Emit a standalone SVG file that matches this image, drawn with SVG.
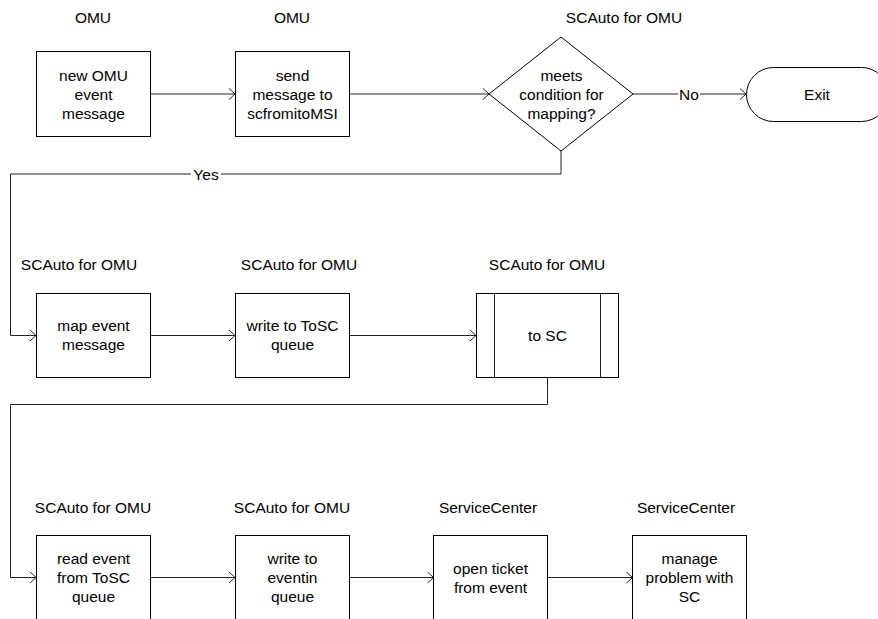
<svg xmlns="http://www.w3.org/2000/svg" width="878" height="619" viewBox="0 0 878 619">
<style>
text{font-family:"Liberation Sans",Arial,sans-serif;font-size:15.5px;fill:#000;text-anchor:middle}
.box{fill:#fff;stroke:#000;stroke-width:1}
.ln{fill:none;stroke:#222;stroke-width:1}
.lbl{fill:#fff}
</style>
<defs>
<marker id="ah" viewBox="0 0 8 12" refX="7" refY="6" markerWidth="8" markerHeight="12" markerUnits="userSpaceOnUse" orient="auto">
<path d="M1,0.5 L7,6 L1,11.5" fill="none" stroke="#222" stroke-width="1"/>
</marker>
</defs>
<rect width="878" height="619" fill="#fff"/>
<g id="connectors">
<path class="ln" d="M150,94 H235" marker-end="url(#ah)"/>
<path class="ln" d="M349,94 H489" marker-end="url(#ah)"/>
<path class="ln" d="M633,94 H746" marker-end="url(#ah)"/>
<rect class="lbl" x="678" y="86" width="22" height="16"/>
<text x="689" y="99.5">No</text>
<path class="ln" d="M561,151 V174 H10.5 V335.5 H36" marker-end="url(#ah)"/>
<rect class="lbl" x="191" y="166" width="30" height="16"/>
<text x="206" y="179.5">Yes</text>
<path class="ln" d="M150,335.5 H235" marker-end="url(#ah)"/>
<path class="ln" d="M349,335.5 H476" marker-end="url(#ah)"/>
<path class="ln" d="M547.5,378 V404.5 H10.5 V577.5 H36" marker-end="url(#ah)"/>
<path class="ln" d="M150,577.5 H235" marker-end="url(#ah)"/>
<path class="ln" d="M349,577.5 H433.5" marker-end="url(#ah)"/>
<path class="ln" d="M547.5,577.5 H632.5" marker-end="url(#ah)"/>
</g>
<g id="n1">
<text x="93" y="22.5">OMU</text>
<rect class="box" x="36.5" y="51.5" width="114" height="85"/>
<text x="93.5" y="81">new OMU</text>
<text x="93.5" y="100">event</text>
<text x="93.5" y="119">message</text>
</g>
<g id="n2">
<text x="292" y="22.5">OMU</text>
<rect class="box" x="235.5" y="51.5" width="114" height="85"/>
<text x="292.5" y="81">send</text>
<text x="292.5" y="100">message to</text>
<text x="292.5" y="119">scfromitoMSI</text>
</g>
<g id="n3">
<text x="624" y="22.5">SCAuto for OMU</text>
<path class="box" d="M561,37 L633,94 L561,151 L489,94 Z"/>
<text x="561.5" y="81">meets</text>
<text x="561.5" y="100">condition for</text>
<text x="561.5" y="119">mapping?</text>
</g>
<g id="n4">
<rect class="box" x="746.5" y="67.5" width="142" height="54" rx="27" ry="27"/>
<text x="817" y="99.5">Exit</text>
</g>
<g id="n5">
<text x="79" y="269.5">SCAuto for OMU</text>
<rect class="box" x="36.5" y="293.5" width="114" height="84"/>
<text x="93.5" y="331">map event</text>
<text x="93.5" y="350">message</text>
</g>
<g id="n6">
<text x="299" y="269.5">SCAuto for OMU</text>
<rect class="box" x="235.5" y="293.5" width="114" height="84"/>
<text x="292.5" y="331">write to ToSC</text>
<text x="292.5" y="350">queue</text>
</g>
<g id="n7">
<text x="547" y="269.5">SCAuto for OMU</text>
<rect class="box" x="476.5" y="293.5" width="142" height="84"/>
<line class="ln" x1="494.5" y1="293.5" x2="494.5" y2="377.5"/>
<line class="ln" x1="600.5" y1="293.5" x2="600.5" y2="377.5"/>
<text x="547.5" y="341">to SC</text>
</g>
<g id="n8">
<text x="93" y="512.5">SCAuto for OMU</text>
<rect class="box" x="36.5" y="535.5" width="114" height="85"/>
<text x="93.5" y="564">read event</text>
<text x="93.5" y="583">from ToSC</text>
<text x="93.5" y="602">queue</text>
</g>
<g id="n9">
<text x="292" y="512.5">SCAuto for OMU</text>
<rect class="box" x="235.5" y="535.5" width="114" height="85"/>
<text x="292.5" y="564">write to</text>
<text x="292.5" y="583">eventin</text>
<text x="292.5" y="602">queue</text>
</g>
<g id="n10">
<text x="488" y="512.5">ServiceCenter</text>
<rect class="box" x="433.5" y="535.5" width="114" height="85"/>
<text x="490.5" y="573.5">open ticket</text>
<text x="490.5" y="592.5">from event</text>
</g>
<g id="n11">
<text x="686" y="512.5">ServiceCenter</text>
<rect class="box" x="632.5" y="535.5" width="114" height="85"/>
<text x="689.5" y="564">manage</text>
<text x="689.5" y="583">problem with</text>
<text x="689.5" y="602">SC</text>
</g>
</svg>
